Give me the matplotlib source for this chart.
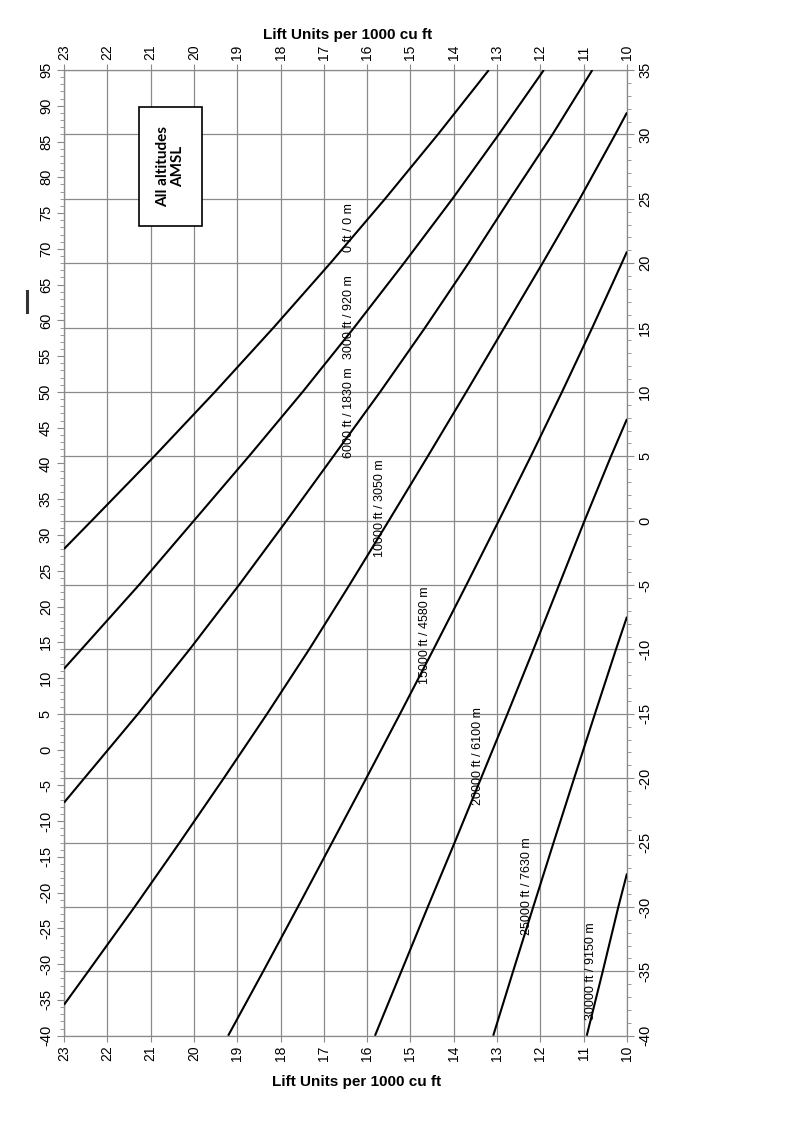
import matplotlib
matplotlib.use('Agg')
import matplotlib.pyplot as plt
from matplotlib.ticker import MultipleLocator
from matplotlib.patches import Rectangle
from matplotlib.lines import Line2D

plt.rcParams['font.family'] = ['Liberation Sans', 'DejaVu Sans']
plt.rcParams['axes.unicode_minus'] = False

# ---------------- data (lift units per 1000 cu ft vs ambient temperature in deg C) -------------
alt_labels = ["0 ft / 0 m", "3000 ft / 920 m", "6000 ft / 1830 m", "10000 ft / 3050 m",
              "15000 ft / 4580 m", "20000 ft / 6100 m", "25000 ft / 7630 m", "30000 ft / 9150 m"]

lift_0ft = [23.0, 22.36, 20.915, 19.515, 18.16, 16.85, 15.585, 14.365, 13.19]
temp_0ft = [-2.2, 0, 5, 10, 15, 20, 25, 30, 35]

lift_3000ft = [23.0, 22.6, 21.27, 20.0, 18.73, 17.49, 16.30, 15.15, 14.03, 12.96, 11.92]
temp_3000ft = [-11.5, -10, -5, 0, 5, 10, 15, 20, 25, 30, 35]

lift_6000ft = [23.0, 22.53, 21.29, 20.10, 18.96, 17.86, 16.78, 15.70, 14.66, 13.66, 12.70, 11.72, 10.80]
temp_6000ft = [-21.9, -20, -15, -10, -5, 0, 5, 10, 15, 20, 25, 30, 35]

lift_10000ft = [23.0, 22.44, 21.37, 20.33, 19.31, 18.31, 17.34, 16.41, 15.50, 14.60, 13.71, 12.83, 11.95, 11.09, 10.27, 10.0]
temp_10000ft = [-37.6, -35, -30, -25, -20, -15, -10, -5, 0, 5, 10, 15, 20, 25, 30, 31.7]

lift_15000ft = [19.21, 18.40, 17.60, 16.81, 16.02, 15.24, 14.47, 13.71, 12.96, 12.22, 11.50, 10.80, 10.12, 10.0]
temp_15000ft = [-40, -35, -30, -25, -20, -15, -10, -5, 0, 5, 10, 15, 20, 20.9]

lift_20000ft = [15.82, 15.21, 14.60, 13.98, 13.37, 12.76, 12.16, 11.57, 10.98, 10.37, 10.0]
temp_20000ft = [-40, -35, -30, -25, -20, -15, -10, -5, 0, 5, 7.9]

lift_25000ft = [13.09, 12.63, 12.165, 11.695, 11.22, 10.74, 10.255, 10.0]
temp_25000ft = [-40, -35, -30, -25, -20, -15, -10, -7.46]

lift_30000ft = [10.93, 10.56, 10.20, 10.0]
temp_30000ft = [-40, -35, -30, -27.4]

lift_series = [lift_0ft, lift_3000ft, lift_6000ft, lift_10000ft,
               lift_15000ft, lift_20000ft, lift_25000ft, lift_30000ft]
temp_series = [temp_0ft, temp_3000ft, temp_6000ft, temp_10000ft,
               temp_15000ft, temp_20000ft, temp_25000ft, temp_30000ft]

# label anchor positions (lift, deg C)
label_pos = [(16.42, 22.8), (16.42, 15.8), (16.42, 8.4), (15.70, 1.0),
             (14.66, -8.9), (13.45, -18.3), (12.30, -28.4), (10.83, -35.0)]

x_title = "Lift Units per 1000 cu ft"
box_text = "All altitudes\nAMSL"


def c2f(c):
    return c * 1.8 + 32


def f2c(f):
    return (f - 32) / 1.8


# ---------------- figure ----------------
fig = plt.figure(figsize=(8.0, 11.26), dpi=100)
ax = fig.add_axes([64 / 800, 1 - 1035.7 / 1126, (627 - 64) / 800, (1035.7 - 70) / 1126])

grid_col = '#8a8a8a'
for lifts, temps in zip(lift_series, temp_series):
    ax.plot(lifts, temps, color='black', lw=1.5, zorder=3, solid_capstyle='butt')

for (lx, ly), txt in zip(label_pos, alt_labels):
    ax.text(lx, ly, txt, rotation=90, ha='center', va='center', fontsize=9, zorder=4)

ax.set_xlim(23, 10)
ax.set_ylim(-40, 35)

ax.xaxis.set_major_locator(MultipleLocator(1))
ax.yaxis.set_major_locator(MultipleLocator(5))
ax.yaxis.set_minor_locator(MultipleLocator(1))
ax.grid(True, which='major', color=grid_col, lw=0.9, zorder=1)

ax.yaxis.tick_right()
ax.tick_params(axis='y', which='major', direction='out', length=5, width=0.8, color=grid_col,
               labelsize=10.5, labelrotation=90, pad=3)
ax.tick_params(axis='y', which='minor', direction='out', length=3, width=0.6, color=grid_col)
for lbl in ax.get_yticklabels():
    lbl.set_va('center')

ax.tick_params(axis='x', which='major', direction='out', length=4, width=0.8, color=grid_col,
               top=True, bottom=True, labeltop=True, labelbottom=True, labelsize=10,
               labelrotation=90, pad=3)

for sp in ax.spines.values():
    sp.set_color(grid_col)
    sp.set_linewidth(0.9)

secy = ax.secondary_yaxis('left', functions=(c2f, f2c))
secy.yaxis.set_major_locator(MultipleLocator(5))
secy.yaxis.set_minor_locator(MultipleLocator(1))
secy.tick_params(axis='y', which='major', direction='out', length=5, width=0.8, color=grid_col,
                 labelsize=10.5, labelrotation=90, pad=3)
secy.tick_params(axis='y', which='minor', direction='out', length=3, width=0.6, color=grid_col)
secy.spines['left'].set_color(grid_col)
for lbl in secy.get_yticklabels():
    lbl.set_va('center')

# box
ax.add_patch(Rectangle((21.27, 22.88), 19.81 - 21.27, 32.13 - 22.88, facecolor='white',
                       edgecolor='black', lw=1.2, zorder=5))
ax.text(20.54, 27.5, box_text, rotation=90, ha='center', va='center', fontsize=11,
        fontweight='bold', family=['Lato', 'DejaVu Sans'], zorder=6, linespacing=1.1)

# titles
fig.text(348 / 800, 1 - 35 / 1126, x_title, ha='center', va='center', fontsize=11, fontweight='bold')
fig.text(357 / 800, 1 - 1082 / 1126, x_title, ha='center', va='center', fontsize=11, fontweight='bold')

# small mark at left margin
fig.add_artist(Line2D([27 / 800, 27 / 800], [1 - 291 / 1126, 1 - 312 / 1126],
                      color='#333333', lw=2.2, transform=fig.transFigure))

fig.savefig('out.png', dpi=100, facecolor='white')
